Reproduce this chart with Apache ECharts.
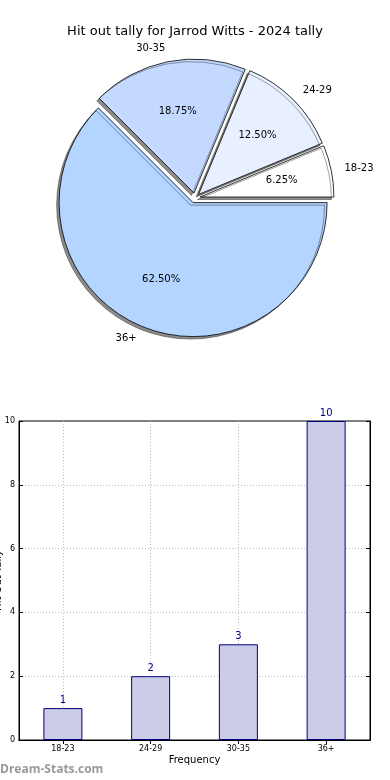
<!DOCTYPE html>
<html><head><meta charset="utf-8">
<script src="https://cdn.jsdelivr.net/npm/echarts@6/dist/echarts.min.js"></script>
<style>html,body{margin:0;padding:0;background:#fff}#c{width:390px;height:780px}</style>
</head><body><div id="c"></div>
<script>
const titleText = 'Hit out tally for Jarrod Witts - 2024 tally';
const categories = ['18-23', '24-29', '30-35', '36+'];
const counts = [1, 2, 3, 10];
const pieColors = ['#ffffff', '#e8f0ff', '#c4d9ff', '#b3d5ff'];
const yTicks = { min: 0, max: 10, interval: 2 };
const xAxisName = 'Frequency';
const yAxisName = 'Hit Out Tally';
const watermark = 'Dream-Stats.com';

const total = counts.reduce((a, b) => a + b, 0);
const R = 134;
const font = 'DejaVu Sans';

const pieData = categories.map((c, i) => ({
  name: c, value: counts[i], selected: true,
  itemStyle: { color: pieColors[i] }
}));
const pctData = categories.map((c, i) => ({ name: c, value: counts[i], selected: true }));

const chart = echarts.init(document.getElementById('c'), null, { renderer: 'canvas' });
chart.setOption({
  animation: false,
  backgroundColor: '#fff',
  title: {
    text: titleText, left: 'center', top: 20,
    textStyle: { fontFamily: font, fontSize: 13, fontWeight: 'normal', color: '#000' }
  },
  graphic: [{
    type: 'text', left: 0, top: 764,
    style: { text: watermark, fill: '#999', font: 'bold 12px "Open Sans"' }
  }],
  grid: { left: 19, right: 20, top: 421, bottom: 40, outerBoundsMode: 'none', containLabel: false,
    show: true, borderColor: '#000', borderWidth: 1, backgroundColor: 'transparent' },
  xAxis: [{
    type: 'category', data: categories,
    name: xAxisName, nameLocation: 'middle', nameGap: 15, nameMoveOverlap: false,
    nameTextStyle: { fontFamily: font, fontSize: 10, color: '#000' },
    axisLine: { lineStyle: { color: '#000', width: 1 } },
    axisTick: { show: true, inside: true, alignWithLabel: true, length: 4, lineStyle: { color: '#000' } },
    axisLabel: { fontFamily: font, fontSize: 8, color: '#000', margin: 5 },
    splitLine: { show: true, alignWithLabel: true, lineStyle: { color: '#bbb', type: [1, 2], width: 1 } }
  }, {
    type: 'category', data: categories, position: 'top',
    axisLine: { show: true, lineStyle: { color: '#000', width: 1 } },
    axisTick: { show: true, inside: true, alignWithLabel: true, length: 4, lineStyle: { color: '#000' } },
    axisLabel: { show: false }, splitLine: { show: false }
  }],
  yAxis: [{
    type: 'value', min: yTicks.min, max: yTicks.max, interval: yTicks.interval,
    name: yAxisName, nameLocation: 'middle', nameGap: 16, nameRotate: 90, nameMoveOverlap: false,
    nameTextStyle: { fontFamily: font, fontSize: 10, color: '#000' },
    axisLine: { show: true, lineStyle: { color: '#000', width: 1 } },
    axisTick: { show: true, inside: true, length: 4, lineStyle: { color: '#000' } },
    axisLabel: { fontFamily: font, fontSize: 8, color: '#000', margin: 4 },
    splitLine: { show: true, showMinLine: false, showMaxLine: false, lineStyle: { color: '#bbb', type: [1, 2], width: 1 } }
  }, {
    type: 'value', min: yTicks.min, max: yTicks.max, interval: yTicks.interval, position: 'right',
    axisLine: { show: true, lineStyle: { color: '#000', width: 1 } },
    axisTick: { show: true, inside: true, length: 4, lineStyle: { color: '#000' } },
    axisLabel: { show: false }, splitLine: { show: false }
  }],
  series: [
    {
      type: 'pie', center: [195, 198], radius: R,
      startAngle: 0, clockwise: false,
      selectedMode: 'multiple', selectedOffset: 5,
      avoidLabelOverlap: false, silent: true,
      itemStyle: { borderColor: '#000', borderWidth: 0.8, shadowColor: 'rgba(0,0,0,0.45)', shadowOffsetX: -2.5, shadowOffsetY: 2.5, shadowBlur: 0 },
      label: { show: true, position: 'outside', formatter: '{b}', fontFamily: font, fontSize: 10, color: '#000', distanceToLabelLine: 0 },
      labelLine: { show: false, length: R * 0.1, length2: 0 },
      emphasis: { disabled: true },
      data: pieData
    },
    {
      type: 'pie', center: [195, 198], radius: [0, R * 1.2],
      startAngle: 0, clockwise: false,
      selectedMode: 'multiple', selectedOffset: 5,
      avoidLabelOverlap: false, silent: true,
      itemStyle: { color: 'rgba(0,0,0,0)', borderWidth: 0 },
      label: { show: true, position: 'inside', fontFamily: font, fontSize: 10, color: '#000',
        formatter: p => (p.value / total * 100).toFixed(2) + '%' },
      labelLine: { show: false },
      emphasis: { disabled: true },
      data: pctData
    },
    {
      type: 'bar', data: counts, barWidth: 39, xAxisIndex: 0, yAxisIndex: 0,
      itemStyle: { color: 'rgba(204,204,230,1)', borderColor: '#000080', borderWidth: 1 },
      label: { show: true, position: 'top', distance: 3, fontFamily: font, fontSize: 10, color: '#00008b' },
      silent: true
    }
  ]
});
</script></body></html>
